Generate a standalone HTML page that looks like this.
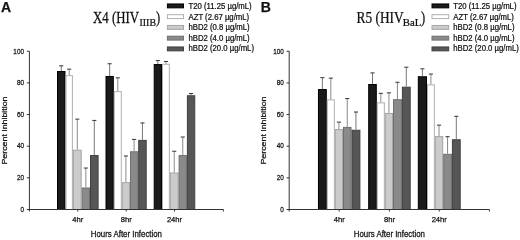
<!DOCTYPE html>
<html><head><meta charset="utf-8"><style>
html,body{margin:0;padding:0;background:#fff;}
body{width:520px;height:240px;overflow:hidden;}
svg{display:block;filter:grayscale(1) blur(0.35px);}
text{font-family:"Liberation Sans",sans-serif;fill:#111;stroke:#111;stroke-width:0.25px;}
.tk{font-size:7.6px;}
.al{font-size:8.2px;}
.yl{font-size:7.6px;}
.lg{font-size:8.6px;}
.pl{font-size:14px;font-weight:bold;fill:#111;}
.ti{font-family:"Liberation Serif",serif;font-size:15.7px;fill:#111;}
.sub{font-size:10px;}
</style></head><body>
<svg width="520" height="240" viewBox="0 0 520 240">
<rect x="57.50" y="71.53" width="7.50" height="137.97" fill="#1a1a1a" stroke="#000000" stroke-width="1"/>
<rect x="66.00" y="75.65" width="6.40" height="133.85" fill="#ffffff" stroke="#b0b0b0" stroke-width="1"/>
<rect x="73.40" y="150.18" width="7.80" height="59.32" fill="#cbcbcb" stroke="#a6a6a6" stroke-width="1"/>
<rect x="82.20" y="188.00" width="7.30" height="21.50" fill="#8a8a8a" stroke="#707070" stroke-width="1"/>
<rect x="90.50" y="155.56" width="7.60" height="53.94" fill="#565656" stroke="#404040" stroke-width="1"/>
<line x1="61.25" y1="71.03" x2="61.25" y2="65.81" stroke="#777" stroke-width="1"/>
<line x1="59.20" y1="65.81" x2="63.30" y2="65.81" stroke="#333" stroke-width="1"/>
<line x1="69.20" y1="75.15" x2="69.20" y2="69.13" stroke="#8c8c8c" stroke-width="1"/>
<line x1="67.15" y1="69.13" x2="71.25" y2="69.13" stroke="#333" stroke-width="1"/>
<line x1="77.30" y1="149.68" x2="77.30" y2="119.14" stroke="#8c8c8c" stroke-width="1"/>
<line x1="75.25" y1="119.14" x2="79.35" y2="119.14" stroke="#333" stroke-width="1"/>
<line x1="85.85" y1="187.50" x2="85.85" y2="168.04" stroke="#888" stroke-width="1"/>
<line x1="83.80" y1="168.04" x2="87.90" y2="168.04" stroke="#333" stroke-width="1"/>
<line x1="94.30" y1="155.06" x2="94.30" y2="120.41" stroke="#777" stroke-width="1"/>
<line x1="92.25" y1="120.41" x2="96.35" y2="120.41" stroke="#333" stroke-width="1"/>
<rect x="106.00" y="76.44" width="7.30" height="133.06" fill="#1a1a1a" stroke="#000000" stroke-width="1"/>
<rect x="114.30" y="91.63" width="7.00" height="117.87" fill="#ffffff" stroke="#b0b0b0" stroke-width="1"/>
<rect x="122.30" y="182.62" width="7.20" height="26.88" fill="#cbcbcb" stroke="#a6a6a6" stroke-width="1"/>
<rect x="130.50" y="151.76" width="7.20" height="57.74" fill="#8a8a8a" stroke="#707070" stroke-width="1"/>
<rect x="138.70" y="140.37" width="7.50" height="69.13" fill="#565656" stroke="#404040" stroke-width="1"/>
<line x1="109.65" y1="75.94" x2="109.65" y2="63.75" stroke="#777" stroke-width="1"/>
<line x1="107.60" y1="63.75" x2="111.70" y2="63.75" stroke="#333" stroke-width="1"/>
<line x1="117.80" y1="91.13" x2="117.80" y2="77.84" stroke="#8c8c8c" stroke-width="1"/>
<line x1="115.75" y1="77.84" x2="119.85" y2="77.84" stroke="#333" stroke-width="1"/>
<line x1="125.90" y1="182.12" x2="125.90" y2="156.01" stroke="#8c8c8c" stroke-width="1"/>
<line x1="123.85" y1="156.01" x2="127.95" y2="156.01" stroke="#333" stroke-width="1"/>
<line x1="134.10" y1="151.26" x2="134.10" y2="139.40" stroke="#888" stroke-width="1"/>
<line x1="132.05" y1="139.40" x2="136.15" y2="139.40" stroke="#333" stroke-width="1"/>
<line x1="142.45" y1="139.87" x2="142.45" y2="122.94" stroke="#777" stroke-width="1"/>
<line x1="140.40" y1="122.94" x2="144.50" y2="122.94" stroke="#333" stroke-width="1"/>
<rect x="154.20" y="64.57" width="7.30" height="144.93" fill="#1a1a1a" stroke="#000000" stroke-width="1"/>
<rect x="162.50" y="64.25" width="6.85" height="145.25" fill="#ffffff" stroke="#b0b0b0" stroke-width="1"/>
<rect x="170.35" y="172.97" width="7.75" height="36.53" fill="#cbcbcb" stroke="#a6a6a6" stroke-width="1"/>
<rect x="179.10" y="155.56" width="7.30" height="53.94" fill="#8a8a8a" stroke="#707070" stroke-width="1"/>
<rect x="187.40" y="95.74" width="7.35" height="113.76" fill="#565656" stroke="#404040" stroke-width="1"/>
<line x1="157.85" y1="64.07" x2="157.85" y2="60.59" stroke="#777" stroke-width="1"/>
<line x1="155.80" y1="60.59" x2="159.90" y2="60.59" stroke="#333" stroke-width="1"/>
<line x1="165.93" y1="63.75" x2="165.93" y2="61.54" stroke="#8c8c8c" stroke-width="1"/>
<line x1="163.88" y1="61.54" x2="167.98" y2="61.54" stroke="#333" stroke-width="1"/>
<line x1="174.22" y1="172.47" x2="174.22" y2="151.26" stroke="#8c8c8c" stroke-width="1"/>
<line x1="172.17" y1="151.26" x2="176.28" y2="151.26" stroke="#333" stroke-width="1"/>
<line x1="182.75" y1="155.06" x2="182.75" y2="137.02" stroke="#888" stroke-width="1"/>
<line x1="180.70" y1="137.02" x2="184.80" y2="137.02" stroke="#333" stroke-width="1"/>
<line x1="191.07" y1="95.24" x2="191.07" y2="93.50" stroke="#777" stroke-width="1"/>
<line x1="189.02" y1="93.50" x2="193.12" y2="93.50" stroke="#333" stroke-width="1"/>
<path d="M29.40 51.25 V211.5 M29.40 209.5 H223.40 V211.5" fill="none" stroke="#333" stroke-width="1"/>
<line x1="26.80" y1="209.50" x2="29.40" y2="209.50" stroke="#333" stroke-width="1"/>
<text transform="translate(24.00,211.75) scale(0.84,1)" class="tk" text-anchor="end">0</text>
<line x1="26.80" y1="177.85" x2="29.40" y2="177.85" stroke="#333" stroke-width="1"/>
<text transform="translate(24.00,180.10) scale(0.84,1)" class="tk" text-anchor="end">20</text>
<line x1="26.80" y1="146.20" x2="29.40" y2="146.20" stroke="#333" stroke-width="1"/>
<text transform="translate(24.00,148.45) scale(0.84,1)" class="tk" text-anchor="end">40</text>
<line x1="26.80" y1="114.55" x2="29.40" y2="114.55" stroke="#333" stroke-width="1"/>
<text transform="translate(24.00,116.80) scale(0.84,1)" class="tk" text-anchor="end">60</text>
<line x1="26.80" y1="82.90" x2="29.40" y2="82.90" stroke="#333" stroke-width="1"/>
<text transform="translate(24.00,85.15) scale(0.84,1)" class="tk" text-anchor="end">80</text>
<line x1="26.80" y1="51.25" x2="29.40" y2="51.25" stroke="#333" stroke-width="1"/>
<text transform="translate(24.00,53.50) scale(0.84,1)" class="tk" text-anchor="end">100</text>
<line x1="77.80" y1="209.5" x2="77.80" y2="211.5" stroke="#333" stroke-width="1"/>
<text x="77.80" y="221.8" class="tk" text-anchor="middle">4hr</text>
<line x1="126.25" y1="209.5" x2="126.25" y2="211.5" stroke="#333" stroke-width="1"/>
<text x="126.25" y="221.8" class="tk" text-anchor="middle">8hr</text>
<line x1="174.50" y1="209.5" x2="174.50" y2="211.5" stroke="#333" stroke-width="1"/>
<text x="174.50" y="221.8" class="tk" text-anchor="middle">24hr</text>
<text transform="translate(126.40,237.2) scale(0.96,1)" class="al" text-anchor="middle">Hours After Infection</text>
<text transform="translate(7.3,130.5) rotate(-90) scale(1.16,1)" class="yl" text-anchor="middle">Percent Inhibition</text>
<text x="1.00" y="12.4" class="pl">A</text>
<text transform="translate(93.00,22.60) scale(0.818,1)" class="ti" style="font-size:15.7px">X4 (HIV</text>
<text transform="translate(139.50,25.70) scale(0.9,1)" class="ti" style="font-size:11px">IIIB</text>
<text transform="translate(156.00,22.60) scale(0.8,1)" class="ti" style="font-size:15.7px">)</text>
<rect x="167.40" y="3.95" width="16.10" height="3.9" fill="#1a1a1a" stroke="#000000" stroke-width="1"/>
<text transform="translate(188.50,9.30) scale(0.9,1)" class="lg">T20 (11.25 µg/mL)</text>
<rect x="167.40" y="14.70" width="16.10" height="3.9" fill="#ffffff" stroke="#b0b0b0" stroke-width="1"/>
<text transform="translate(188.50,19.80) scale(0.9,1)" class="lg">AZT (2.67 µg/mL)</text>
<rect x="167.40" y="25.45" width="16.10" height="3.9" fill="#cbcbcb" stroke="#a6a6a6" stroke-width="1"/>
<text transform="translate(188.50,30.30) scale(0.9,1)" class="lg">hBD2 (0.8 µg/mL)</text>
<rect x="167.40" y="36.20" width="16.10" height="3.9" fill="#8a8a8a" stroke="#707070" stroke-width="1"/>
<text transform="translate(188.50,40.80) scale(0.9,1)" class="lg">hBD2 (4.0 µg/mL)</text>
<rect x="167.40" y="46.95" width="16.10" height="3.9" fill="#565656" stroke="#404040" stroke-width="1"/>
<text transform="translate(188.50,51.30) scale(0.9,1)" class="lg">hBD2 (20.0 µg/mL)</text>
<rect x="318.45" y="89.57" width="7.85" height="119.93" fill="#1a1a1a" stroke="#000000" stroke-width="1"/>
<rect x="327.30" y="99.86" width="7.05" height="109.64" fill="#ffffff" stroke="#b0b0b0" stroke-width="1"/>
<rect x="335.35" y="129.61" width="7.15" height="79.89" fill="#cbcbcb" stroke="#a6a6a6" stroke-width="1"/>
<rect x="343.50" y="127.39" width="7.50" height="82.11" fill="#8a8a8a" stroke="#707070" stroke-width="1"/>
<rect x="352.00" y="130.24" width="7.90" height="79.26" fill="#565656" stroke="#404040" stroke-width="1"/>
<line x1="322.38" y1="89.07" x2="322.38" y2="77.68" stroke="#777" stroke-width="1"/>
<line x1="320.32" y1="77.68" x2="324.43" y2="77.68" stroke="#333" stroke-width="1"/>
<line x1="330.83" y1="99.36" x2="330.83" y2="78.15" stroke="#8c8c8c" stroke-width="1"/>
<line x1="328.78" y1="78.15" x2="332.88" y2="78.15" stroke="#333" stroke-width="1"/>
<line x1="338.93" y1="129.11" x2="338.93" y2="122.15" stroke="#8c8c8c" stroke-width="1"/>
<line x1="336.88" y1="122.15" x2="340.98" y2="122.15" stroke="#333" stroke-width="1"/>
<line x1="347.25" y1="126.89" x2="347.25" y2="98.57" stroke="#888" stroke-width="1"/>
<line x1="345.20" y1="98.57" x2="349.30" y2="98.57" stroke="#333" stroke-width="1"/>
<line x1="355.95" y1="129.74" x2="355.95" y2="112.02" stroke="#777" stroke-width="1"/>
<line x1="353.90" y1="112.02" x2="358.00" y2="112.02" stroke="#333" stroke-width="1"/>
<rect x="368.70" y="84.51" width="7.60" height="124.99" fill="#1a1a1a" stroke="#000000" stroke-width="1"/>
<rect x="377.30" y="102.86" width="7.05" height="106.64" fill="#ffffff" stroke="#b0b0b0" stroke-width="1"/>
<rect x="385.35" y="113.47" width="7.15" height="96.03" fill="#cbcbcb" stroke="#a6a6a6" stroke-width="1"/>
<rect x="393.50" y="99.70" width="7.90" height="109.80" fill="#8a8a8a" stroke="#707070" stroke-width="1"/>
<rect x="402.40" y="87.20" width="7.80" height="122.30" fill="#565656" stroke="#404040" stroke-width="1"/>
<line x1="372.50" y1="84.01" x2="372.50" y2="72.93" stroke="#777" stroke-width="1"/>
<line x1="370.45" y1="72.93" x2="374.55" y2="72.93" stroke="#333" stroke-width="1"/>
<line x1="380.83" y1="102.36" x2="380.83" y2="93.34" stroke="#8c8c8c" stroke-width="1"/>
<line x1="378.78" y1="93.34" x2="382.88" y2="93.34" stroke="#333" stroke-width="1"/>
<line x1="388.93" y1="112.97" x2="388.93" y2="92.87" stroke="#8c8c8c" stroke-width="1"/>
<line x1="386.88" y1="92.87" x2="390.98" y2="92.87" stroke="#333" stroke-width="1"/>
<line x1="397.45" y1="99.20" x2="397.45" y2="82.27" stroke="#888" stroke-width="1"/>
<line x1="395.40" y1="82.27" x2="399.50" y2="82.27" stroke="#333" stroke-width="1"/>
<line x1="406.30" y1="86.70" x2="406.30" y2="67.23" stroke="#777" stroke-width="1"/>
<line x1="404.25" y1="67.23" x2="408.35" y2="67.23" stroke="#333" stroke-width="1"/>
<rect x="418.30" y="76.75" width="8.20" height="132.75" fill="#1a1a1a" stroke="#000000" stroke-width="1"/>
<rect x="427.50" y="84.82" width="6.85" height="124.68" fill="#ffffff" stroke="#b0b0b0" stroke-width="1"/>
<rect x="435.35" y="136.57" width="7.35" height="72.93" fill="#cbcbcb" stroke="#a6a6a6" stroke-width="1"/>
<rect x="443.70" y="154.30" width="7.70" height="55.20" fill="#8a8a8a" stroke="#707070" stroke-width="1"/>
<rect x="452.40" y="139.74" width="7.80" height="69.76" fill="#565656" stroke="#404040" stroke-width="1"/>
<line x1="422.40" y1="76.25" x2="422.40" y2="68.82" stroke="#777" stroke-width="1"/>
<line x1="420.35" y1="68.82" x2="424.45" y2="68.82" stroke="#333" stroke-width="1"/>
<line x1="430.93" y1="84.32" x2="430.93" y2="74.04" stroke="#8c8c8c" stroke-width="1"/>
<line x1="428.88" y1="74.04" x2="432.98" y2="74.04" stroke="#333" stroke-width="1"/>
<line x1="439.02" y1="136.07" x2="439.02" y2="125.15" stroke="#8c8c8c" stroke-width="1"/>
<line x1="436.97" y1="125.15" x2="441.07" y2="125.15" stroke="#333" stroke-width="1"/>
<line x1="447.55" y1="153.80" x2="447.55" y2="136.70" stroke="#888" stroke-width="1"/>
<line x1="445.50" y1="136.70" x2="449.60" y2="136.70" stroke="#333" stroke-width="1"/>
<line x1="456.30" y1="139.24" x2="456.30" y2="116.29" stroke="#777" stroke-width="1"/>
<line x1="454.25" y1="116.29" x2="458.35" y2="116.29" stroke="#333" stroke-width="1"/>
<path d="M289.20 51.25 V211.5 M289.20 209.5 H489.40 V211.5" fill="none" stroke="#333" stroke-width="1"/>
<line x1="286.60" y1="209.50" x2="289.20" y2="209.50" stroke="#333" stroke-width="1"/>
<text transform="translate(283.80,211.75) scale(0.84,1)" class="tk" text-anchor="end">0</text>
<line x1="286.60" y1="177.85" x2="289.20" y2="177.85" stroke="#333" stroke-width="1"/>
<text transform="translate(283.80,180.10) scale(0.84,1)" class="tk" text-anchor="end">20</text>
<line x1="286.60" y1="146.20" x2="289.20" y2="146.20" stroke="#333" stroke-width="1"/>
<text transform="translate(283.80,148.45) scale(0.84,1)" class="tk" text-anchor="end">40</text>
<line x1="286.60" y1="114.55" x2="289.20" y2="114.55" stroke="#333" stroke-width="1"/>
<text transform="translate(283.80,116.80) scale(0.84,1)" class="tk" text-anchor="end">60</text>
<line x1="286.60" y1="82.90" x2="289.20" y2="82.90" stroke="#333" stroke-width="1"/>
<text transform="translate(283.80,85.15) scale(0.84,1)" class="tk" text-anchor="end">80</text>
<line x1="286.60" y1="51.25" x2="289.20" y2="51.25" stroke="#333" stroke-width="1"/>
<text transform="translate(283.80,53.50) scale(0.84,1)" class="tk" text-anchor="end">100</text>
<line x1="339.20" y1="209.5" x2="339.20" y2="211.5" stroke="#333" stroke-width="1"/>
<text x="339.20" y="221.8" class="tk" text-anchor="middle">4hr</text>
<line x1="389.45" y1="209.5" x2="389.45" y2="211.5" stroke="#333" stroke-width="1"/>
<text x="389.45" y="221.8" class="tk" text-anchor="middle">8hr</text>
<line x1="439.25" y1="209.5" x2="439.25" y2="211.5" stroke="#333" stroke-width="1"/>
<text x="439.25" y="221.8" class="tk" text-anchor="middle">24hr</text>
<text transform="translate(389.30,237.2) scale(0.96,1)" class="al" text-anchor="middle">Hours After Infection</text>
<text transform="translate(266.2,130.5) rotate(-90) scale(1.16,1)" class="yl" text-anchor="middle">Percent Inhibition</text>
<text x="260.70" y="12.4" class="pl">B</text>
<text transform="translate(356.60,22.60) scale(0.85,1)" class="ti" style="font-size:15.7px">R5 (HIV</text>
<text transform="translate(402.70,25.70) scale(0.98,1)" class="ti" style="font-size:11px">BaL</text>
<text transform="translate(421.10,22.60) scale(0.8,1)" class="ti" style="font-size:15.7px">)</text>
<rect x="432.00" y="3.95" width="16.70" height="3.9" fill="#1a1a1a" stroke="#000000" stroke-width="1"/>
<text transform="translate(453.30,9.30) scale(0.9,1)" class="lg">T20 (11.25 µg/mL)</text>
<rect x="432.00" y="14.70" width="16.70" height="3.9" fill="#ffffff" stroke="#b0b0b0" stroke-width="1"/>
<text transform="translate(453.30,19.80) scale(0.9,1)" class="lg">AZT (2.67 µg/mL)</text>
<rect x="432.00" y="25.45" width="16.70" height="3.9" fill="#cbcbcb" stroke="#a6a6a6" stroke-width="1"/>
<text transform="translate(453.30,30.30) scale(0.9,1)" class="lg">hBD2 (0.8 µg/mL)</text>
<rect x="432.00" y="36.20" width="16.70" height="3.9" fill="#8a8a8a" stroke="#707070" stroke-width="1"/>
<text transform="translate(453.30,40.80) scale(0.9,1)" class="lg">hBD2 (4.0 µg/mL)</text>
<rect x="432.00" y="46.95" width="16.70" height="3.9" fill="#565656" stroke="#404040" stroke-width="1"/>
<text transform="translate(453.30,51.30) scale(0.9,1)" class="lg">hBD2 (20.0 µg/mL)</text>
</svg>
</body></html>
